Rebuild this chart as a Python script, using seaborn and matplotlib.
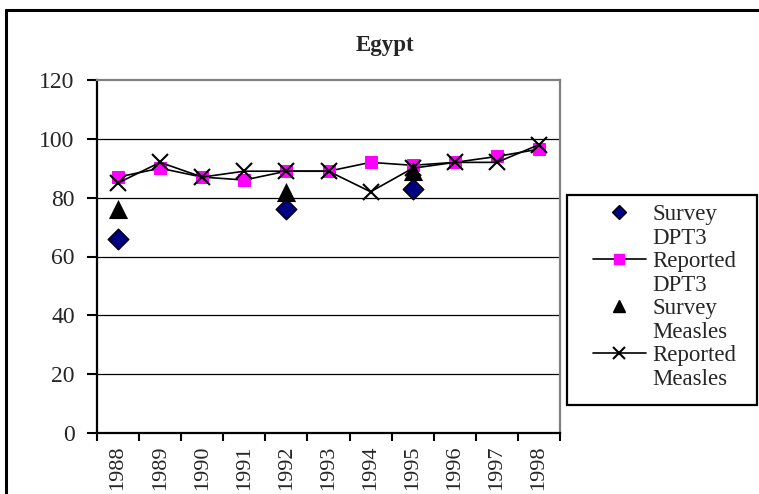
import numpy as np
import pandas as pd
import seaborn as sns
import matplotlib.pyplot as plt
from matplotlib.lines import Line2D
from matplotlib.patches import Rectangle

# data
years = ['1988', '1989', '1990', '1991', '1992', '1993',
         '1994', '1995', '1996', '1997', '1998']
dpt3_survey = [66, np.nan, np.nan, np.nan, 76, np.nan, np.nan, 83, np.nan, np.nan, np.nan]
dpt3_reported = [87, 90, 87, 86, 89, 89, 92, 91, 92, 94, 96.5]
measles_survey = [76, np.nan, np.nan, np.nan, 82, np.nan, np.nan, 89, np.nan, np.nan, np.nan]
measles_reported = [85, 92, 87, 89, 89, 89, 82, 90, 92, 92, 98]
legend_lines = ['Survey', 'DPT3', 'Reported', 'DPT3', 'Survey', 'Measles', 'Reported', 'Measles']

df = pd.DataFrame({
    'pos': np.arange(len(years)),
    'year': years,
    'dpt3_survey': dpt3_survey,
    'dpt3_reported': dpt3_reported,
    'measles_survey': measles_survey,
    'measles_reported': measles_reported,
})

sns.set_style('white')
plt.rcParams['font.family'] = ['Liberation Serif', 'DejaVu Serif']

fig = plt.figure(figsize=(7.59, 4.94), dpi=100)
ax = fig.add_axes([97 / 759, 1 - 433 / 494, (560 - 97) / 759, (433 - 80) / 494])

# reported series (lines + markers)
sns.lineplot(data=df, x='pos', y='dpt3_reported', ax=ax, color='black', lw=1.2,
             marker='s', markersize=8.5, markerfacecolor='#FF00FF',
             markeredgecolor='#FF00FF', zorder=3)
sns.lineplot(data=df, x='pos', y='measles_reported', ax=ax, color='black', lw=1.2,
             marker='x', markersize=11, markeredgewidth=1.5,
             markeredgecolor='black', zorder=4)

# survey series (markers only)
sns.scatterplot(data=df, x='pos', y='dpt3_survey', ax=ax, marker='D', s=110,
                color='#000080', edgecolor='black', linewidth=1, zorder=5)
sns.scatterplot(data=df, x='pos', y='measles_survey', ax=ax, marker='^', s=190,
                color='black', edgecolor='black', linewidth=0, zorder=5)

ax.set_xlim(-0.5, len(years) - 0.5)
ax.set_ylim(0, 120)
ax.set_yticks(range(0, 121, 20))
ax.set_xticks(np.arange(-0.5, len(years), 1.0))
ax.set_xticklabels([])
ax.set_xticks(np.arange(len(years)), minor=True)
ax.set_xticklabels(years, minor=True, rotation=90, fontsize=16)
ax.tick_params(axis='x', which='major', length=6, width=1.5, color='black', direction='out', bottom=True)
ax.tick_params(axis='x', which='minor', length=0, pad=9)
ax.tick_params(axis='y', length=7, width=1.5, color='black', direction='out', left=True,
               labelsize=17, pad=9)
ax.set_xlabel('')
ax.set_ylabel('')

for y in range(20, 101, 20):
    ax.axhline(y, color='black', lw=0.9, zorder=1)

for side in ['left', 'bottom']:
    ax.spines[side].set_color('black')
    ax.spines[side].set_linewidth(1.6)
for side in ['top', 'right']:
    ax.spines[side].set_color('#808080')
    ax.spines[side].set_linewidth(1.6)

fig.text(385 / 759, 1 - 45 / 494, 'Egypt', ha='center', va='center',
         fontsize=16.5, fontweight='bold')

# legend: Excel wrapped the labels, so entries are single text lines
blank = Line2D([], [], linestyle='none')
handles = [
    Line2D([], [], linestyle='none', marker='D', markersize=7, markerfacecolor='#000080',
           markeredgecolor='black'),
    blank,
    Line2D([], [], color='black', lw=1.2, marker='s', markersize=7,
           markerfacecolor='#FF00FF', markeredgecolor='#FF00FF'),
    blank,
    Line2D([], [], linestyle='none', marker='^', markersize=9, color='black'),
    blank,
    Line2D([], [], color='black', lw=1.2, marker='x', markersize=9, markeredgewidth=1.5),
    blank,
]
fig.legend(handles, legend_lines, loc='upper left',
           bbox_to_anchor=(593 / 759, 1 - 204 / 494), fontsize=16.5,
           frameon=False, handlelength=2.3, handletextpad=0.28, labelspacing=0.11,
           borderpad=0, borderaxespad=0)
fig.add_artist(Rectangle((567 / 759, 1 - 405 / 494), 190 / 759, 210 / 494,
                         transform=fig.transFigure, fill=False,
                         edgecolor='black', lw=1.6))

# outer chart border (clipped at the right and bottom in the reference)
fig.add_artist(Line2D([6 / 759, 6 / 759], [0, 1 - 10 / 494], color='black', lw=2.2))
fig.add_artist(Line2D([6 / 759, 1], [1 - 10 / 494, 1 - 10 / 494], color='black', lw=2.2))

fig.savefig('out.png', dpi=100)
